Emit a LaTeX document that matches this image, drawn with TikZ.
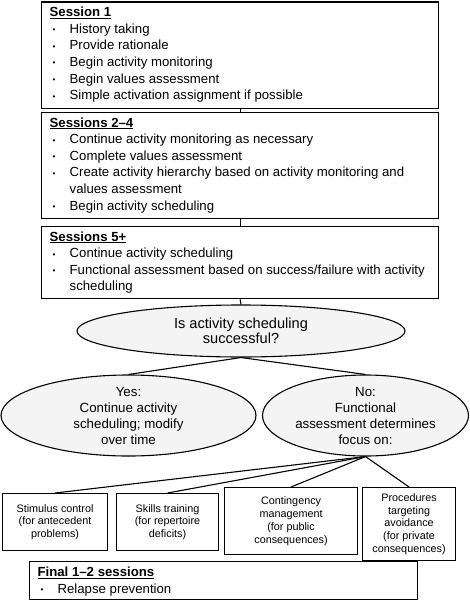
\documentclass[tikz,border=0pt]{standalone}
\usepackage{fontspec}
\setmainfont{Liberation Sans}
\usetikzlibrary{shapes.geometric}
\newcommand{\bitem}[1]{\par\hangindent=20pt\hangafter=1\noindent\makebox[20pt][l]{\hspace{3pt}\raisebox{0.5pt}{\fontsize{8}{8}\selectfont •}}#1}
\newcommand{\sessbody}[3]{\parbox[c][#1][t]{381pt}{\raggedright\fontsize{13.2}{16.6}\selectfont\rule{0pt}{14.5pt}\underline{\textbf{#2}}#3}}
\begin{document}
\begin{tikzpicture}[x=1pt,y=-1pt,
  sessbox/.style={draw, line width=1.3pt, anchor=north west, inner xsep=8pt, inner ysep=0pt},
  oval/.style={ellipse, draw, line width=1.1pt, fill=gray!9, inner sep=0pt, align=center, font=\fontsize{13.3}{16}\selectfont},
  smallbox/.style={draw, line width=1.1pt, anchor=north west, inner sep=0pt, align=center, font=\fontsize{10.8}{12.8}\selectfont},
  conn/.style={line width=1.1pt}]
\useasboundingbox (0,0) rectangle (470,602);
\node[sessbox] (s1) at (41,1.5) {\sessbody{106pt}{Session 1}{%
  \bitem{History taking}\bitem{Provide rationale}\bitem{Begin activity monitoring}%
  \bitem{Begin values assessment}\bitem{Simple activation assignment if possible}}};
\node[sessbox] (s2) at (41,112) {\sessbody{106pt}{Sessions 2–4}{%
  \bitem{Continue activity monitoring as necessary}\bitem{Complete values assessment}%
  \bitem{Create activity hierarchy based on activity monitoring and values assessment}%
  \bitem{Begin activity scheduling}}};
\node[sessbox] (s3) at (41,226) {\sessbody{72pt}{Sessions 5+}{%
  \bitem{Continue activity scheduling}%
  \bitem{Functional assessment based on success/failure with activity scheduling}}};
\node[oval, minimum width=328pt, minimum height=52pt, font=\fontsize{14.6}{15}\selectfont] (q) at (241,331) {Is activity scheduling\\successful?};
\node[oval, minimum width=255pt, minimum height=77pt] (yes) at (128.5,415.5) {Yes:\\Continue activity\\scheduling; modify\\over time};
\node[oval, minimum width=206pt, minimum height=77pt] (no) at (365.5,415.5) {No:\\Functional\\assessment determines\\focus on:};
\node[smallbox, minimum width=105pt, minimum height=57pt] (b1) at (2,493) {Stimulus control\\(for antecedent\\problems)};
\node[smallbox, minimum width=102pt, minimum height=57pt] (b2) at (116,493) {Skills training\\(for repertoire\\deficits)};
\node[smallbox, minimum width=133pt, minimum height=67pt] (b3) at (224,487) {Contingency\\management\\(for public\\consequences)};
\node[smallbox, minimum width=93pt, minimum height=73pt] (b4) at (362,487) {Procedures\\targeting\\avoidance\\(for private\\consequences)};
\node[sessbox, line width=1.2pt] (fin) at (29,561) {\parbox[c][38pt][t]{372pt}{\raggedright\fontsize{13.2}{16.6}\selectfont\rule{0pt}{15pt}\underline{\textbf{Final 1–2 sessions}}\bitem{Relapse prevention}}};
\draw[conn] (s1.south) -- (s2.north);
\draw[conn] (s2.south) -- (s3.north);
\draw[conn] (s3.south) -- (q.north);
\draw[conn] (q.south) -- (yes.north);
\draw[conn] (q.south) -- (no.north);
\draw[conn] (no.south) -- (b1.north);
\draw[conn] (no.south) -- (b2.north);
\draw[conn] (no.south) -- (b3.north);
\draw[conn] (no.south) -- (b4.north);
\end{tikzpicture}
\end{document}
